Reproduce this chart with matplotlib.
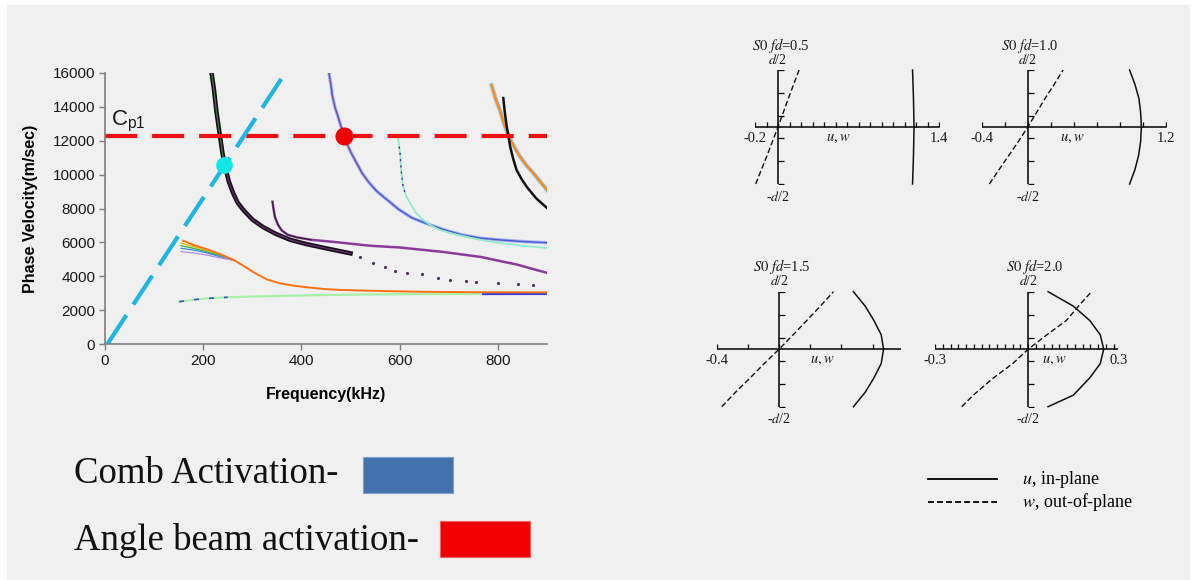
import matplotlib
matplotlib.use('Agg')
import matplotlib.pyplot as plt
from matplotlib.patches import Rectangle

W, H = 1193, 580
plt.rcParams['font.family'] = ['Liberation Sans', 'DejaVu Sans']

# ---- dispersion curves (frequency kHz, phase velocity m/s) ----
cp1_f = [0, 900]
cp1_v = [12300, 12300]
comb_f = [5, 360]
comb_v = [0, 15700]
comb_pt = (243, 10580)
angle_pt = (486, 12300)

a_f = [217, 222, 227, 234, 239, 244, 252, 261, 270, 282, 300, 322, 348, 377, 410, 450, 500]
a_v = [16000, 15000, 13700, 12300, 11300, 10550, 9600, 8900, 8350, 7900, 7350, 6900, 6500, 6150, 5900, 5650, 5350]
a_dot_f = [520, 546, 570, 590, 614, 645, 679, 702, 736, 755, 801, 840, 872]
a_dot_v = [5150, 4760, 4550, 4330, 4170, 4110, 3880, 3780, 3720, 3640, 3580, 3540, 3480]

b_f = [341, 343, 346, 352, 360, 372, 390, 420, 465, 540, 600, 690, 765, 840, 900]
b_v = [8400, 8000, 7500, 7050, 6700, 6450, 6300, 6150, 6030, 5800, 5700, 5430, 5140, 4680, 4200]

c_f = [159, 180, 207, 235, 261, 280, 295, 312, 329, 356, 385, 411, 445, 478, 560, 650, 750, 900]
c_v = [6100, 5850, 5600, 5300, 4980, 4650, 4370, 4080, 3820, 3580, 3440, 3350, 3250, 3190, 3130, 3080, 3060, 3050]
fan_f = [155, 180, 207, 235, 265]
fan_v = {'#d8c400': [5950, 5750, 5520, 5250, 4920],
         '#3cb043': [5800, 5650, 5450, 5200, 4920],
         '#3a8fe0': [5650, 5550, 5380, 5150, 4920],
         '#b48be8': [5450, 5380, 5250, 5080, 4920]}

d_f = [151, 200, 250, 313, 400, 463, 550, 614, 700, 800, 900]
d_v = [2500, 2680, 2760, 2810, 2870, 2900, 2930, 2945, 2955, 2960, 2965]
d_blue_f = [770, 900]
d_blue_v = [2950, 2955]

e_f = [456, 460, 463, 468, 474, 480, 486, 493, 501, 512, 523, 537, 553, 575, 598, 625, 651, 690, 726, 765, 802, 850, 900]
e_v = [16000, 15300, 14650, 14000, 13470, 12900, 12330, 11800, 11300, 10700, 10110, 9550, 9030, 8500, 7950, 7450, 7150, 6750, 6450, 6250, 6150, 6050, 5980]

f_f = [597, 599, 601, 603, 607, 613, 621, 633, 648, 665, 682, 710, 737, 770, 804, 850, 900]
f_v = [12160, 11650, 11200, 10250, 9270, 8750, 8325, 7750, 7321, 6980, 6730, 6500, 6317, 6120, 5963, 5800, 5668]

g_f = [787, 795, 804, 812, 821, 833, 845, 858, 872, 886, 900]
g_v = [15290, 14500, 13815, 13050, 12339, 11650, 11060, 10550, 10093, 9590, 9090]

h_f = [811, 814, 818, 822, 825, 831, 838, 848, 859, 878, 900]
h_v = [14520, 13700, 12830, 12200, 11650, 10950, 10273, 9750, 9270, 8600, 8030]

# ---- S0 mode shapes (u solid, w dashed), y from -d/2 to d/2 ----
s1_y = [-1, -0.5, 0, 0.5, 1]
s1_u = [1.17, 1.178, 1.183, 1.178, 1.17]
s1_w = [-0.194, -0.095, 0, 0.09, 0.183]
s2_y = [-1, -0.75, -0.5, -0.25, 0, 0.25, 0.5, 0.75, 1]
s2_u = [0.884, 0.93, 0.962, 0.98, 0.986, 0.98, 0.965, 0.93, 0.884]
s2_w = [-0.333, -0.25, -0.165, -0.08, 0, 0.075, 0.15, 0.23, 0.307]
s3_y = [-1, -0.75, -0.5, -0.25, 0, 0.25, 0.5, 0.75, 1]
s3_u = [0.477, 0.552, 0.608, 0.655, 0.67, 0.655, 0.608, 0.552, 0.477]
s3_w = [-0.368, -0.28, -0.186, -0.095, 0, 0.09, 0.178, 0.265, 0.349]
s4_y = [-1, -0.8, -0.5, -0.25, 0, 0.25, 0.5, 0.75, 1]
s4_u = [0.064, 0.145, 0.198, 0.232, 0.243, 0.232, 0.198, 0.145, 0.064]
s4_w = [-0.214, -0.177, -0.112, -0.05, 0, 0.06, 0.123, 0.17, 0.204]
s4_wy = [-1, -0.8, -0.5, -0.25, 0, 0.25, 0.5, 0.8, 1]


def px_rect(l, t, r, b):
    return [l / W, 1 - b / H, (r - l) / W, (b - t) / H]


fig = plt.figure(figsize=(W / 100, H / 100), dpi=100, facecolor='white')
fig.patches.append(Rectangle((7 / W, 0), 1183 / W, 575 / H, transform=fig.transFigure,
                             facecolor='#f0f0f0', edgecolor='none', zorder=-10))

# ---- main dispersion chart ----
ax = fig.add_axes(px_rect(105, 73, 547, 344))
ax.set_facecolor('none')
ax.set_xlim(0, 900)
ax.set_ylim(0, 16000)
ax.set_xticks(range(0, 801, 200))
ax.set_yticks(range(0, 16001, 2000))
for s in ['top', 'right']:
    ax.spines[s].set_visible(False)
for s in ['left', 'bottom']:
    ax.spines[s].set_color('#7f7f7f')
    ax.spines[s].set_linewidth(1.2)
ax.tick_params(direction='out', length=4, width=1, color='#7f7f7f', labelsize=11,
               labelcolor='#1a1a1a', pad=3)
ax.set_ylabel('Phase Velocity(m/sec)', fontsize=11.5, fontweight='bold')
ax.set_xlabel('Frequency(kHz)', fontsize=11.5, fontweight='bold')
ax.yaxis.set_label_coords(-0.152, 0.5)
ax.xaxis.set_label_coords(0.5, -0.16)

ax.plot(d_f, d_v, color='#a8f0a8', lw=1.6)
ax.plot(d_f[:3], d_v[:3], color='#4a4ad0', lw=1.2, dashes=(3, 6))
ax.plot(d_blue_f, d_blue_v, color='#4040d8', lw=1.6)

for col, vs in fan_v.items():
    ax.plot(fan_f, vs, color=col, lw=0.9)
ax.plot(c_f, c_v, color='#ff7010', lw=1.4)

ax.plot(a_f, a_v, color='#111111', lw=3.2)
ax.plot(a_f, a_v, color='#7a2a8a', lw=0.8)
ax.plot(a_f[:6], a_v[:6], color='#2a8a2a', lw=0.6)
ax.plot(a_dot_f, a_dot_v, ls='none', marker='.', ms=2.5, color='#503060')

ax.plot(b_f, b_v, color='#8a3a9a', lw=1.8)
ax.plot(b_f[:8], b_v[:8], color='#222222', lw=0.7)

ax.plot(e_f, e_v, color='#a4b0ee', lw=2.4)
ax.plot(e_f, e_v, color='#4a5ad0', lw=1.0)
ax.plot(e_f[:12], e_v[:12], color='#c04060', lw=0.6, dashes=(2, 2))

ax.plot(f_f, f_v, color='#90ecc8', lw=1.3)
ax.plot(f_f[1:6], f_v[1:6], color='#3a3aa0', lw=1.0, dashes=(1.5, 3))

ax.plot(g_f, g_v, color='#9cc4ea', lw=3.0)
ax.plot(g_f, g_v, color='#ff8a10', lw=1.6)
ax.plot(h_f, h_v, color='#111111', lw=1.8)

ax.plot(cp1_f, cp1_v, color='#ee1010', lw=3, dashes=(7.7, 3.6))
ax.plot(comb_f, comb_v, color='#1eb4e6', lw=3, dashes=(8.3, 3))
ax.plot(*comb_pt, 'o', color='#10e8e8', ms=11)
ax.plot(*angle_pt, 'o', color='#ee0000', ms=12)
ax.text(12, 12930, r'C$_{\mathregular{p1}}$', fontsize=16, color='#1a1a1a')

# ---- mode shape panels ----
serif = ['Liberation Serif', 'DejaVu Serif']
panels = [
    ('0.5', (-0.2, 1.4), 0.1, '-0.2', '1.4', 0.52, (755, 70, 939, 184), s1_y, s1_u, s1_y, s1_w),
    ('1.0', (-0.4, 1.2), 0.2, '-0.4', '1.2', 0.39, (981.7, 70, 1166, 184), s2_y, s2_u, s2_y, s2_w),
    ('1.5', (-0.4, 0.78), 0.2, '-0.4', '', 0.28, (716.7, 291.7, 900.7, 406.7), s3_y, s3_u, s3_y, s3_w),
    ('2.0', (-0.3, 0.29), 0.025, '-0.3', '0.3', 0.083, (935, 291.7, 1118.3, 406.7), s4_y, s4_u, s4_wy, s4_w),
]
for fd, xl, step, lab_l, lab_r, uw_x, rect, uy, ux, wy, wx in panels:
    sa = fig.add_axes(px_rect(*rect))
    sa.set_xlim(*xl)
    sa.set_ylim(-1, 1)
    sa.axis('off')
    sa.axhline(0, color='black', lw=1.1)
    sa.axvline(0, color='black', lw=1.1)
    n = int(round((xl[1] - xl[0]) / step))
    xt = [xl[0] + i * step for i in range(n + 1)]
    sa.plot(xt, [0] * len(xt), ls='none', marker=2, ms=3.5, mew=0.9, color='black')
    yt = [-1, -0.6, -0.2, 0.2, 0.6, 1]
    sa.plot([0] * len(yt), yt, ls='none', marker=1, ms=4, mew=0.9, color='black')
    sa.plot(ux, uy, color='#111111', lw=1.1, clip_on=False)
    sa.plot(wx, wy, color='#111111', lw=1.0, dashes=(4, 2), clip_on=False)
    kw = dict(family=serif, math_fontfamily='stix', color='#1a1a1a', clip_on=False)
    sa.text(0.02, 1.27, r'$\mathit{S0\ fd}$=' + fd, ha='center', va='bottom', fontsize=10.5, **kw)
    sa.text(0, 1.06, r'$\mathit{d}$/2', ha='center', va='bottom', fontsize=10, **kw)
    sa.text(0, -1.1, r'-$\mathit{d}$/2', ha='center', va='top', fontsize=10, **kw)
    sa.text(xl[0], -0.08, lab_l, ha='center', va='top', fontsize=10.5, **kw)
    if lab_r:
        sa.text(xl[1], -0.08, lab_r, ha='center', va='top', fontsize=10.5, **kw)
    sa.text(uw_x, -0.08, r'$\mathit{u,w}$', ha='center', va='top', fontsize=10.5, **kw)

# ---- legends / annotations in pixel space ----
ov = fig.add_axes([0, 0, 1, 1])
ov.set_xlim(0, W)
ov.set_ylim(H, 0)
ov.axis('off')
ov.plot([928, 997], [479, 479], color='black', lw=1.3)
ov.plot([928, 997], [502, 502], color='black', lw=1.3, dashes=(3.3, 1.7))
ov.text(1022, 479, r'$\mathit{u}$, in-plane', va='center', fontsize=13,
        family=serif, math_fontfamily='stix')
ov.text(1022, 502, r'$\mathit{w}$, out-of-plane', va='center', fontsize=13,
        family=serif, math_fontfamily='stix')

ov.text(74, 483, 'Comb Activation-', fontsize=26.5, family=serif, va='baseline', color='#111111')
ov.add_patch(Rectangle((363, 457), 90, 36, facecolor='#4372ad', edgecolor='#7f9fce', lw=0.8))
ov.text(74, 550, 'Angle beam activation-', fontsize=26.5, family=serif, va='baseline', color='#111111')
ov.add_patch(Rectangle((440, 521), 90, 36, facecolor='#f00000', edgecolor='#f06060', lw=0.8))

fig.savefig('out.png', dpi=100, facecolor=fig.get_facecolor())
